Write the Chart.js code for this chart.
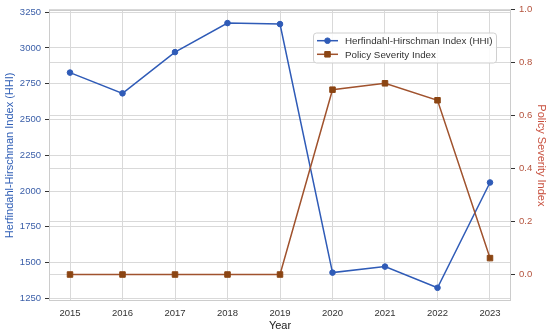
<!DOCTYPE html>
<html>
<head>
<meta charset="utf-8">
<script src="https://cdn.jsdelivr.net/npm/chart.js@4/dist/chart.umd.min.js"></script>
<style>
  html, body { margin: 0; padding: 0; background: #fff; }
  #wrap { width: 550px; height: 334px; }
</style>
</head>
<body>
<div id="wrap"><canvas id="c" width="550" height="334"></canvas></div>
<script>
// ---- data ----
const years = [2015, 2016, 2017, 2018, 2019, 2020, 2021, 2022, 2023];
const hhiValues = [2828, 2683, 2971, 3174, 3167, 1430, 1472, 1324, 2060];
const policyValues = [0, 0, 0, 0, 0, 0.698, 0.722, 0.658, 0.062];
const hhiTicks = [1250, 1500, 1750, 2000, 2250, 2500, 2750, 3000, 3250];
const policyTicks = [0.0, 0.2, 0.4, 0.6, 0.8, 1.0];
const policyTickLabels = ['0.0', '0.2', '0.4', '0.6', '0.8', '1.0'];
const seriesNames = ['Herfindahl-Hirschman Index (HHI)', 'Policy Severity Index'];
const axisTitles = { x: 'Year', left: 'Herfindahl-Hirschman Index (HHI)', right: 'Policy Severity Index' };

// ---- styles ----
const FONT = '"Liberation Sans", Arial, "DejaVu Sans", sans-serif';
Chart.defaults.font.family = FONT;
const BLUE = '#2f5bb7';
const BROWN_LINE = '#a0522d';
const BROWN_MARK = '#8b4513';
const GRID = '#d9d9d9';

const frame = {
  id: 'frame',
  afterDatasetsDraw(chart) {
    const a = chart.chartArea, ctx = chart.ctx;
    ctx.save();
    ctx.strokeStyle = '#cccccc';
    ctx.lineWidth = 1;
    ctx.strokeRect(Math.round(a.left) + 0.5, Math.round(a.top) + 0.5,
                   Math.round(a.right - a.left) - 1, Math.round(a.bottom - a.top) - 1);
    ctx.restore();
  }
};

const legendBox = {
  id: 'legendBox',
  afterDraw(chart) {
    const ctx = chart.ctx;
    const x = 313.5, y = 33, w = 183, h = 30, r = 3;
    ctx.save();
    ctx.beginPath();
    ctx.roundRect(x, y, w, h, r);
    ctx.fillStyle = 'rgba(255,255,255,0.85)';
    ctx.fill();
    ctx.strokeStyle = '#d0d0d0';
    ctx.lineWidth = 1;
    ctx.stroke();
    const rows = [
      { label: seriesNames[0], y: 40.7, line: BLUE, mark: BLUE, style: 'circle', radius: 2.8 },
      { label: seriesNames[1], y: 54.3, line: BROWN_LINE, mark: BROWN_MARK, style: 'rect', radius: 3.9 }
    ];
    rows.forEach(rw => {
      ctx.strokeStyle = rw.line;
      ctx.lineWidth = 1.5;
      ctx.beginPath();
      ctx.moveTo(317, rw.y);
      ctx.lineTo(338, rw.y);
      ctx.stroke();
      ctx.fillStyle = rw.mark;
      ctx.strokeStyle = rw.mark;
      ctx.lineWidth = 1;
      Chart.helpers.drawPoint(ctx, { pointStyle: rw.style, radius: rw.radius, borderWidth: 1, rotation: 0 }, 327.5, rw.y);
      ctx.fillStyle = '#333333';
      ctx.font = '9.8px ' + FONT;
      ctx.textBaseline = 'middle';
      ctx.textAlign = 'left';
      ctx.fillText(rw.label, 345, rw.y + 0.5);
    });
    ctx.restore();
  }
};

new Chart(document.getElementById('c'), {
  type: 'line',
  data: {
    datasets: [
      {
        label: seriesNames[0],
        data: years.map((yr, i) => ({ x: yr, y: hhiValues[i] })),
        yAxisID: 'y',
        borderColor: BLUE,
        backgroundColor: BLUE,
        borderWidth: 1.5,
        pointStyle: 'circle',
        pointRadius: 2.8,
        pointBorderWidth: 1,
        tension: 0,
        order: 1
      },
      {
        label: seriesNames[1],
        data: years.map((yr, i) => ({ x: yr, y: policyValues[i] })),
        yAxisID: 'y1',
        borderColor: BROWN_LINE,
        backgroundColor: BROWN_MARK,
        pointBorderColor: BROWN_MARK,
        borderWidth: 1.5,
        pointStyle: 'rect',
        pointRadius: 3.9,
        pointBorderWidth: 1,
        tension: 0,
        order: 0
      }
    ]
  },
  options: {
    responsive: false,
    animation: false,
    layout: { padding: { top: 6, left: 0, right: 0, bottom: 0 } },
    plugins: { legend: { display: false }, tooltip: { enabled: false } },
    scales: {
      x: {
        type: 'linear',
        min: 2014.6,
        max: 2023.4,
        afterBuildTicks: s => { s.ticks = years.map(v => ({ value: v })); },
        afterFit: s => { s.height = 33; },
        ticks: { color: '#333333', font: { size: 9.5 }, padding: 7, callback: v => String(v), maxRotation: 0 },
        grid: { color: GRID, lineWidth: 1, drawTicks: false },
        border: { display: false },
        title: { display: true, text: axisTitles.x, color: '#222222', font: { size: 11 }, padding: { top: 0, bottom: 1.5 } }
      },
      y: {
        type: 'linear',
        position: 'left',
        min: 1231.5,
        max: 3267.5,
        afterBuildTicks: s => { s.ticks = hhiTicks.map(v => ({ value: v })); },
        afterFit: s => { s.width = 49; },
        ticks: { color: '#3a5ea8', font: { size: 9.5 }, padding: 4, callback: v => String(v) },
        grid: { color: GRID, lineWidth: 1, drawTicks: true, tickLength: 4, tickColor: '#333333', tickWidth: 1 },
        border: { display: false },
        title: { display: true, text: axisTitles.left, color: '#2f5eb5', font: { size: 11 }, padding: { top: 3.4, bottom: 0 } }
      },
      y1: {
        type: 'linear',
        position: 'right',
        min: -0.1,
        max: 1.0,
        afterBuildTicks: s => { s.ticks = policyTicks.map(v => ({ value: v })); },
        afterFit: s => { s.width = 39; },
        ticks: {
          color: '#b4523c', font: { size: 9.5 }, padding: 4,
          callback: (v, i) => policyTickLabels[policyTicks.indexOf(v)] ?? Number(v).toFixed(1)
        },
        grid: { color: GRID, lineWidth: 1, drawOnChartArea: true, drawTicks: true, tickLength: 4, tickColor: '#333333', tickWidth: 1 },
        border: { display: false },
        title: { display: true, text: axisTitles.right, color: '#c8503e', font: { size: 11 }, padding: { top: 1.9, bottom: 0 } }
      }
    }
  },
  plugins: [frame, legendBox]
});
</script>
</body>
</html>
